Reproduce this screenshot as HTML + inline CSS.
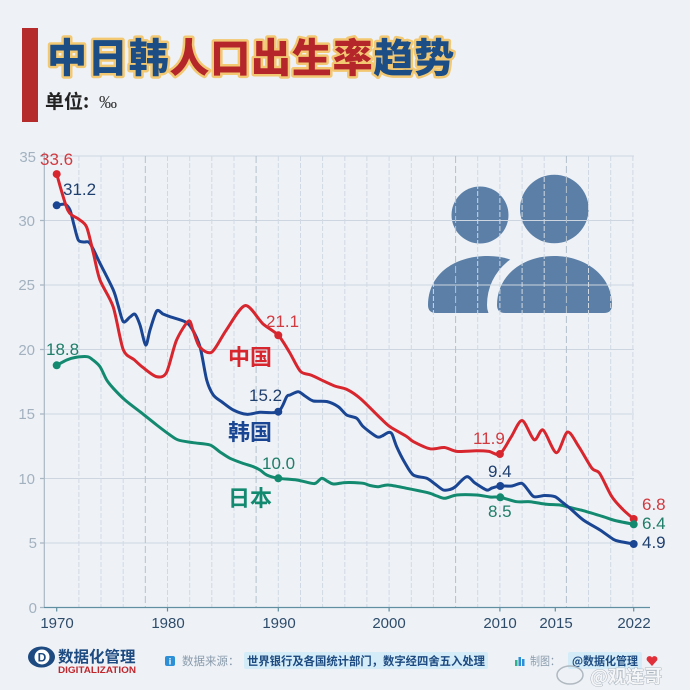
<!DOCTYPE html>
<html><head><meta charset="utf-8"><style>
html,body{margin:0;padding:0;background:#eef2f7;}
svg{display:block;}
text{font-family:"Liberation Sans","Noto Sans CJK SC",sans-serif;}
.cjk{font-family:"Noto Sans CJK SC","WenQuanYi Zen Hei",sans-serif;}
</style></head><body>
<svg width="690" height="690" viewBox="0 0 690 690" xmlns="http://www.w3.org/2000/svg">
<rect x="0" y="0" width="690" height="690" fill="#eef2f7"/>

<!-- Title -->
<rect x="22" y="28" width="16" height="94" fill="#b52a2b"/>
<text class="cjk" x="47" y="72" font-size="40" font-weight="900" letter-spacing="0.8" stroke="#f2c873" stroke-width="5" paint-order="stroke" stroke-linejoin="round"><tspan fill="#1c4d85">中日韩</tspan><tspan fill="#b5262b">人口出生率</tspan><tspan fill="#1c4d85">趋势</tspan></text>
<text class="cjk" x="45" y="108" font-size="19" font-weight="700" fill="#222">单位:</text>
<text x="99" y="108" font-size="18" fill="#333" style="font-family:'Liberation Serif',serif">‰</text>

<!-- Icon -->
<g fill="#5b7fa6">
  <circle cx="480" cy="215" r="28.5"/>
  <circle cx="554.3" cy="209" r="34.3"/>
  <path d="M428,305 C428,276 452,256 488,256 C520,256 545,276 545,305 Q545,313 537,313 L436,313 Q428,313 428,305 Z"/>
</g>
<path d="M497,305 C497,276 522,256 554,256 C586,256 612,276 612,305 Q612,313 604,313 L505,313 Q497,313 497,305 Z" fill="#eef2f7" stroke="#eef2f7" stroke-width="20" stroke-linejoin="round"/>
<path d="M497,305 C497,276 522,256 554,256 C586,256 612,276 612,305 Q612,313 604,313 L505,313 Q497,313 497,305 Z" fill="#5b7fa6"/>

<!-- Grid -->
<g stroke="#cdd6e0" stroke-width="1" fill="none">
  <path d="M44,543 H634 M44,478.5 H634 M44,414 H634 M44,349.5 H634 M44,285 H634 M44,220.5 H634 M44,156 H634"/>
</g>
<g stroke="#d0d9e3" stroke-width="1" stroke-dasharray="5 2" fill="none">
  <path d="M78.9,156V607 M101,156V607 M123.2,156V607 M167.5,156V607 M189.7,156V607 M211.8,156V607 M234,156V607 M278.3,156V607 M300.5,156V607 M322.6,156V607 M344.8,156V607 M366.9,156V607 M389.1,156V607 M411.3,156V607 M433.4,156V607 M477.7,156V607 M499.9,156V607 M522.1,156V607 M544.2,156V607 M588.5,156V607 M610.7,156V607 M632.9,156V607"/>
</g>
<g stroke="#b3c0cc" stroke-width="1" stroke-dasharray="7 3" fill="none">
  <path d="M145.3,156V607 M256.1,156V607 M455.6,156V607 M566.4,156V607"/>
</g>

<!-- Axes -->
<line x1="44.3" y1="152" x2="44.3" y2="608" stroke="#a9b6c3" stroke-width="1.2"/>
<g stroke="#a9b6c3" stroke-width="1.2">
  <path d="M40,607.5H44 M40,543H44 M40,478.5H44 M40,414H44 M40,349.5H44 M40,285H44 M40,220.5H44 M40,156H44"/>
</g>
<line x1="44" y1="607.5" x2="650" y2="607.5" stroke="#5f8fa0" stroke-width="1.3"/>
<g stroke="#5f8fa0" stroke-width="1.2">
  <path d="M56.7,607.5v4 M167.5,607.5v4 M278.3,607.5v4 M389.1,607.5v4 M499.9,607.5v4 M555.3,607.5v4 M633.7,607.5v4"/>
</g>

<!-- Y labels -->
<g font-size="15" fill="#a3b1bf" text-anchor="end">
  <text x="37" y="613">0</text>
  <text x="37" y="548">5</text>
  <text x="35" y="484">10</text>
  <text x="35" y="419">15</text>
  <text x="35" y="355">20</text>
  <text x="35" y="290">25</text>
  <text x="35" y="226">30</text>
  <text x="36" y="162">35</text>
</g>
<!-- X labels -->
<g font-size="15" fill="#2e4c6a" text-anchor="middle">
  <text x="57" y="628">1970</text>
  <text x="168" y="628">1980</text>
  <text x="279" y="628">1990</text>
  <text x="389" y="628">2000</text>
  <text x="500" y="628">2010</text>
  <text x="556" y="628">2015</text>
  <text x="634" y="628">2022</text>
</g>

<!-- Series -->
<g fill="none" stroke-width="3" stroke-linejoin="round" stroke-linecap="round">
  <polyline class="smooth" stroke="#138a6f" points="56.7,365.3 66.7,360 75,357.5 87.3,356.7 93,360 100,366.7 106.7,380 113.3,388.3 125,400 140,411.7 156.7,425 170,435 178.3,440 193.3,442.7 210,445 220,452 230,458.3 242,463 253.3,466.7 260,470 266.7,475 278.3,478.3 296.7,480 311.7,483.3 316,483 321.7,478.3 327,481 333.3,484 343.3,482.7 350,482.5 363.3,483.3 370,485.5 378.3,486.7 388.3,485 406.7,488.3 420,491 430,493.3 437,496 445,498.3 456.7,495 476.7,495 490,497 500.3,497.3 516.7,501.7 530,501.7 546.7,504.3 560,505 570,507.5 583.3,510.7 603.3,516.7 615,520.5 633.7,524.3"/>
  <polyline class="smooth" stroke="#1a4592" points="56.7,205.3 65,204.3 70,210 74,225 78.3,240 84,242 90,243.3 100,263.3 113.3,290 118,305 123.3,321.7 130,317 135,314.3 140,325 145.7,345 150,330 156.7,311 163,314 170,316.7 185,321.7 191.7,328.3 200,346.7 206.7,380 213.3,395 222,402 233.3,410 246.7,414.3 260,412.3 278.3,411.7 286.7,396.7 290,395 298.3,391.7 305,396 313.3,401 326.7,401.5 338.3,406.7 346.7,415 356.7,418.3 363.3,426.7 376.7,436.7 382,436 388.3,432.5 392,434 396.7,446.7 405,463 413.3,475 426.7,478.3 435,484 443.3,490 450,489.5 455,487 466.7,476.7 475,483 486.7,490 492,488 500.3,486 511.7,486 521.7,483.3 528,490 534,496.7 545,495.5 555,496.7 562,502 570,508.3 583.3,520 600,530 613.3,539.3 620,541.5 633.7,544"/>
  <polyline class="smooth" stroke="#d7262e" points="56.7,174.1 67.8,210.2 78.9,219.2 86.6,227 93.3,252.8 99.9,279.8 113.2,306.9 123.2,349.5 134.3,359.8 143.1,367.6 156.4,376.6 166.4,372.7 176.4,340.5 188.5,321.1 193,330.2 199.6,346.9 211.8,352.1 226.2,330.2 245.1,305.6 262.8,323.7 278.3,335.3 289.4,352.1 300.5,371.4 311.5,375.3 333.7,385.6 347,389.5 360.3,398.5 380.2,417.9 390.2,426.9 406.8,436.6 413.5,441.7 430.1,448.8 444.5,447.5 456.7,451.4 476.6,450.8 488.8,451.4 499.9,454 511,437.2 522.1,420.5 534.2,439.8 543.1,430 556.4,452.7 567.5,432.1 578.6,446.3 591.9,468.2 599.6,473.3 611.8,496.6 622.9,509.5 633.7,519"/>
</g>

<!-- Dots -->
<g fill="#d7262e"><circle cx="56.7" cy="174.1" r="4"/><circle cx="278.3" cy="335.3" r="4"/><circle cx="499.9" cy="454" r="4"/><circle cx="633.7" cy="519" r="4"/></g>
<g fill="#1a4592"><circle cx="56.7" cy="205.3" r="4"/><circle cx="278.3" cy="411.7" r="4"/><circle cx="500.3" cy="486" r="4"/><circle cx="633.7" cy="544" r="4"/></g>
<g fill="#138a6f"><circle cx="56.7" cy="365.3" r="4"/><circle cx="278.3" cy="478.3" r="4"/><circle cx="500.3" cy="497.3" r="4"/><circle cx="633.7" cy="524.3" r="4"/></g>

<!-- Value labels -->
<g font-size="17">
  <text x="40" y="165" fill="#d13a3f">33.6</text>
  <text x="266" y="327" fill="#d13a3f">21.1</text>
  <text x="473" y="444" fill="#d13a3f">11.9</text>
  <text x="642" y="510" fill="#d13a3f">6.8</text>
  <text x="63" y="195" fill="#1f3f6e">31.2</text>
  <text x="249" y="401" fill="#1f3f6e">15.2</text>
  <text x="488" y="477" fill="#1f3f6e">9.4</text>
  <text x="642" y="548" fill="#1f3f6e">4.9</text>
  <text x="46" y="355" fill="#1f7d68">18.8</text>
  <text x="262" y="469" fill="#1f7d68">10.0</text>
  <text x="488" y="517" fill="#1f7d68">8.5</text>
  <text x="642" y="529" fill="#1f7d68">6.4</text>
</g>
<g class="cjk" font-size="22" font-weight="700">
  <text class="cjk" x="228" y="365" fill="#d7262e">中国</text>
  <text class="cjk" x="228" y="440" fill="#1a4592">韩国</text>
  <text class="cjk" x="228" y="506" fill="#138a6f">日本</text>
</g>

<!-- Footer -->
<ellipse cx="41.5" cy="657" rx="13.5" ry="10.5" fill="#1d4a80"/>
<circle cx="42" cy="657" r="7.5" fill="#ffffff"/>
<text x="42" y="661.5" font-size="12" font-weight="700" fill="#1d4a80" text-anchor="middle">D</text>
<text class="cjk" x="58" y="662" font-size="15.5" font-weight="700" fill="#1d4a80">数据化管理</text>
<text x="58" y="673" font-size="9" font-weight="700" fill="#c0272d" textLength="78" lengthAdjust="spacingAndGlyphs">DIGITALIZATION</text>

<rect x="165" y="656" width="10" height="10" rx="2" fill="#2d8fd5"/>
<text x="170" y="664.5" font-size="9" font-weight="700" fill="#fff" text-anchor="middle">i</text>
<text class="cjk" x="182" y="665" font-size="11.5" fill="#8a9bab">数据来源：</text>
<rect x="244" y="652" width="244" height="17" rx="2" fill="#d4ecf8"/>
<text class="cjk" x="247" y="665" font-size="11.5" font-weight="700" fill="#1d4a80" textLength="238" lengthAdjust="spacingAndGlyphs">世界银行及各国统计部门，数字经四舍五入处理</text>

<rect x="515" y="660" width="2.5" height="6" fill="#2fb38a"/>
<rect x="518.5" y="657" width="2.5" height="9" fill="#2d8fd5"/>
<rect x="522" y="659" width="2.5" height="7" fill="#2d8fd5"/>
<text class="cjk" x="530" y="665" font-size="11.5" fill="#8a9bab" textLength="30" lengthAdjust="spacingAndGlyphs">制图：</text>
<rect x="568" y="652" width="74" height="17" rx="2" fill="#d4ecf8"/>
<text class="cjk" x="572" y="665" font-size="11.5" font-weight="700" fill="#1d4a80" textLength="66" lengthAdjust="spacingAndGlyphs">@数据化管理</text>
<path d="M652,666 L647,660.5 A2.8,2.8 0 0 1 652,657.5 A2.8,2.8 0 0 1 657,660.5 Z" fill="#e0303a"/>

<!-- watermark -->
<ellipse cx="570" cy="675" rx="13" ry="9" fill="none" stroke="#b0b8c0" stroke-width="1.5"/>
<text class="cjk" x="590" y="683" font-size="18" font-weight="700" fill="#f4f6f8" stroke="#9aa4ae" stroke-width="0.8" paint-order="stroke">@观连哥</text>
</svg>
<script>
(function(){
  var NS="http://www.w3.org/2000/svg";
  var pls=document.querySelectorAll("polyline.smooth");
  for(var k=0;k<pls.length;k++){
    var pl=pls[k];
    var raw=pl.getAttribute("points").trim().split(/\s+/);
    var p=raw.map(function(s){var a=s.split(",");return [parseFloat(a[0]),parseFloat(a[1])];});
    var n=p.length, t=0.85;
    var d="M"+p[0][0]+","+p[0][1];
    for(var i=0;i<n-1;i++){
      var p0=p[i>0?i-1:i], p1=p[i], p2=p[i+1], p3=p[i+2<n?i+2:i+1];
      var c1x=p1[0]+(p2[0]-p0[0])/6*t, c1y=p1[1]+(p2[1]-p0[1])/6*t;
      var c2x=p2[0]-(p3[0]-p1[0])/6*t, c2y=p2[1]-(p3[1]-p1[1])/6*t;
      d+=" C"+c1x.toFixed(2)+","+c1y.toFixed(2)+" "+c2x.toFixed(2)+","+c2y.toFixed(2)+" "+p2[0]+","+p2[1];
    }
    var path=document.createElementNS(NS,"path");
    path.setAttribute("d",d);
    path.setAttribute("stroke",pl.getAttribute("stroke"));
    path.setAttribute("fill","none");
    pl.parentNode.replaceChild(path,pl);
  }
})();
</script>
</body></html>
